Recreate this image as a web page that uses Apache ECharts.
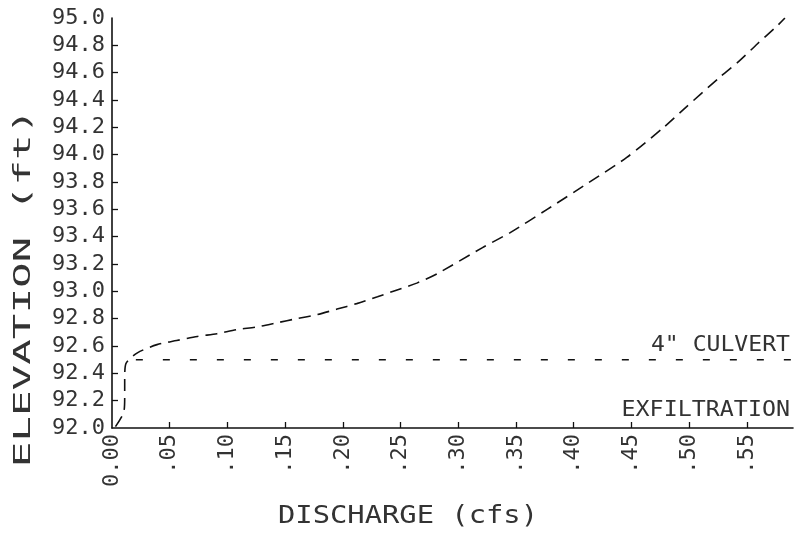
<!DOCTYPE html>
<html>
<head>
<meta charset="utf-8">
<script src="https://cdn.jsdelivr.net/npm/echarts@6/dist/echarts.min.js"></script>
<style>
  html, body { margin: 0; padding: 0; background: #fff; }
  #chart { width: 801px; height: 540px; }
</style>
</head>
<body>
<div id="chart"></div>
<script>
// ---- data ----
var totalDischarge = [0.003, 0.010, 0.011, 0.011, 0.012, 0.022, 0.039, 0.056, 0.074, 0.091, 0.108, 0.126, 0.143, 0.160, 0.178, 0.195, 0.212, 0.230, 0.247, 0.264, 0.282, 0.321, 0.345, 0.377, 0.412, 0.446, 0.478, 0.495, 0.527, 0.544, 0.559, 0.576, 0.583];
var totalElevation = [92.01, 92.11, 92.22, 92.36, 92.47, 92.55, 92.61, 92.64, 92.67, 92.69, 92.72, 92.74, 92.77, 92.80, 92.83, 92.87, 92.91, 92.96, 93.01, 93.06, 93.13, 93.32, 93.43, 93.60, 93.79, 93.98, 94.20, 94.33, 94.57, 94.69, 94.81, 94.94, 95.00];
var culvertDischarge = [0.012, 0.59];
var culvertElevation = [92.5, 92.5];
var xTickValues = [0, 0.05, 0.10, 0.15, 0.20, 0.25, 0.30, 0.35, 0.40, 0.45, 0.50, 0.55];
var xTickLabels = ['0.00', '.05', '.10', '.15', '.20', '.25', '.30', '.35', '.40', '.45', '.50', '.55'];
var yTickValues = [92.0, 92.2, 92.4, 92.6, 92.8, 93.0, 93.2, 93.4, 93.6, 93.8, 94.0, 94.2, 94.4, 94.6, 94.8, 95.0];
var yTickLabels = ['92.0', '92.2', '92.4', '92.6', '92.8', '93.0', '93.2', '93.4', '93.6', '93.8', '94.0', '94.2', '94.4', '94.6', '94.8', '95.0'];
var annotationCulvert = '4" CULVERT';
var annotationExfil = 'EXFILTRATION';
var xTitle = 'DISCHARGE (cfs)';
var yTitle = 'ELEVATION (ft)';

function zip(a, b) { return a.map(function (v, i) { return [v, b[i]]; }); }

var FONT = 'DejaVu Sans Mono';
var TXT = '#333';

var chart = echarts.init(document.getElementById('chart'), null, { renderer: 'canvas' });
chart.setOption({
  animation: false,
  backgroundColor: '#fff',
  grid: { left: 112, top: 18, right: 8, bottom: 112, containLabel: false },
  xAxis: {
    type: 'value', min: 0, max: 0.59, interval: 0.05,
    splitLine: { show: false },
    axisLine: { show: true, lineStyle: { color: '#111', width: 1.6 } },
    axisTick: { show: true, inside: true, length: 6, lineStyle: { color: '#111', width: 1.3 },
      customValues: xTickValues.slice(1) },
    axisLabel: {
      show: true, rotate: 90, margin: 6, color: TXT, fontFamily: FONT, fontSize: 22,
      customValues: xTickValues,
      formatter: function (v) {
        for (var i = 0; i < xTickValues.length; i++) {
          if (Math.abs(xTickValues[i] - v) < 1e-9) return xTickLabels[i];
        }
        return '';
      }
    }
  },
  yAxis: {
    type: 'value', min: 92, max: 95, interval: 0.2,
    splitLine: { show: false },
    axisLine: { show: true, lineStyle: { color: '#111', width: 1.6 } },
    axisTick: { show: true, inside: true, length: 6, lineStyle: { color: '#111', width: 1.3 },
      customValues: yTickValues.slice(1, yTickValues.length - 1) },
    axisLabel: {
      show: true, margin: 7, color: TXT, fontFamily: FONT, fontSize: 22,
      customValues: yTickValues,
      formatter: function (v) {
        for (var i = 0; i < yTickValues.length; i++) {
          if (Math.abs(yTickValues[i] - v) < 1e-9) return yTickLabels[i];
        }
        return '';
      }
    }
  },
  series: [
    {
      type: 'line', name: 'total', data: zip(totalDischarge, totalElevation),
      showSymbol: false, smooth: 0.25,
      lineStyle: { color: '#111', width: 1.6, type: [12, 7] }
    },
    {
      type: 'line', name: 'culvert', data: zip(culvertDischarge, culvertElevation),
      showSymbol: false,
      lineStyle: { color: '#111', width: 1.5, type: [7, 20], dashOffset: -10 }
    }
  ],
  graphic: [
    { type: 'text', x: 790, y: 345, scaleX: 1.05, style: { text: annotationCulvert, font: '22px "' + FONT + '"', fill: TXT, textAlign: 'right', textVerticalAlign: 'middle' } },
    { type: 'text', x: 790, y: 410, scaleX: 1.06, style: { text: annotationExfil, font: '22px "' + FONT + '"', fill: TXT, textAlign: 'right', textVerticalAlign: 'middle' } },
    { type: 'text', x: 408, y: 517, scaleX: 1.2, style: { text: xTitle, font: '24px "' + FONT + '"', fill: TXT, textAlign: 'center', textVerticalAlign: 'middle' } },
    { type: 'text', x: 24, y: 288, rotation: Math.PI / 2, scaleX: 1.85, style: { text: yTitle, font: '23px "' + FONT + '"', fill: TXT, textAlign: 'center', textVerticalAlign: 'middle' } }
  ]
});
</script>
</body>
</html>
